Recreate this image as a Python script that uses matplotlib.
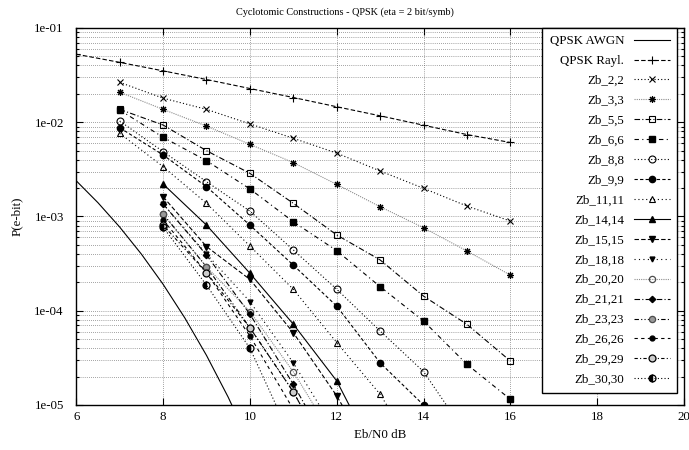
import matplotlib
matplotlib.use('Agg')
import matplotlib.pyplot as plt
import matplotlib.ticker as ticker
import numpy as np

plt.rcParams['font.family'] = ['Liberation Serif', 'DejaVu Serif']
plt.rcParams['font.size'] = 9.3

# theoretical reference curves
awgnX = [6.0, 6.5, 7.0, 7.5, 8.0, 8.5, 9.0, 9.5, 10.0]
awgnY = [2.39e-3, 1.40e-3, 7.73e-4, 3.99e-4, 1.91e-4, 8.40e-5, 3.36e-5, 1.21e-5, 3.87e-6]
raylX = [6, 7, 8, 9, 10, 11, 12, 13, 14, 15, 16]
raylY = [0.0527, 0.0432, 0.0351, 0.0284, 0.0228, 0.0183, 0.0146, 0.0117, 0.0093, 0.0074, 0.0061]

# cyclotomic constructions
x7to16 = [7, 8, 9, 10, 11, 12, 13, 14, 15, 16]
zb2 = [0.0265, 0.0180, 0.0137, 0.0096, 0.00676, 0.0047, 0.00304, 0.00199, 0.00129, 0.000895]
zb3 = [0.0208, 0.0137, 0.0091, 0.00583, 0.00373, 0.00219, 0.00127, 0.00076, 0.00043, 0.000239]
zb5 = [0.0137, 0.00935, 0.00499, 0.00287, 0.00138, 0.000637, 0.000346, 0.000143, 7.18e-5, 2.93e-5]
zb6 = [0.0135, 0.00692, 0.00391, 0.00196, 0.00088, 0.000434, 0.00018, 7.78e-5, 2.7e-5, 1.15e-5]
x8s = [7, 8, 9, 10, 11, 12, 13, 14, 15]
zb8 = [0.0103, 0.00488, 0.00234, 0.00114, 0.000442, 0.000169, 6.1e-5, 2.26e-5, 4.8e-6]
x9s = [7, 8, 9, 10, 11, 12, 13, 14]
zb9 = [0.00875, 0.0045, 0.00207, 0.00081, 0.000305, 0.000112, 2.8e-5, 1.0e-5]
zb11 = [0.00762, 0.00338, 0.00138, 0.000486, 0.000169, 4.6e-5, 1.3e-5, 2.3e-6]
x8to13 = [8, 9, 10, 11, 12, 13]
zb14 = [0.00221, 0.00081, 0.00025, 7.2e-5, 1.8e-5, 2.3e-6]
zb15 = [0.00162, 0.00048, 0.000215, 5.85e-5, 1.25e-5, 2.0e-6]
x8to12 = [8, 9, 10, 11, 12]
zb18 = [1.36e-3, 4.0e-4, 1.25e-4, 2.8e-5, 5.0e-6]
zb20 = [1.06e-3, 2.93e-4, 9.8e-5, 2.25e-5, 4.0e-6]
zb21 = [1.36e-3, 3.9e-4, 9.2e-5, 1.66e-5, 2.5e-6]
zb23 = [1.06e-3, 2.93e-4, 6.6e-5, 1.38e-5, 2.0e-6]
x8to11 = [8, 9, 10, 11]
zb26 = [9.2e-4, 2.53e-4, 5.4e-5, 9.0e-6]
zb29 = [8.1e-4, 2.53e-4, 6.6e-5, 1.38e-5, 2.0e-6]
zb30 = [7.7e-4, 1.87e-4, 4.0e-5, 4.0e-6]

fig = plt.figure(figsize=(6.89, 4.5), dpi=100)
ax = fig.add_axes([0.1107, 0.1, 0.8820, 0.8378])

lw = 0.8
ax.plot(awgnX, awgnY, color='black', lw=lw, label='QPSK AWGN')
ax.plot(raylX, raylY, color='black', lw=lw, dashes=(4, 2), marker='+', ms=6, mew=0.8, label='QPSK Rayl.')

series = [
    (x7to16, zb2, 'Zb_2,2', dict(color='black', dashes=(1, 2), marker='x', ms=4.5, mew=0.8)),
    (x7to16, zb3, 'Zb_3,3', dict(color='0.55', dashes=(1, 1), marker=(8, 2, 0), ms=5, mew=0.8, mec='black')),
    (x7to16, zb5, 'Zb_5,5', dict(color='black', dashes=(5, 2, 1, 2), marker='s', ms=5, mfc='none', mew=0.8)),
    (x7to16, zb6, 'Zb_6,6', dict(color='black', dashes=(4, 3, 1, 3), marker='s', ms=5, mfc='black')),
    (x8s, zb8, 'Zb_8,8', dict(color='black', dashes=(1, 2), marker='o', ms=5, mfc='none', mew=0.8)),
    (x9s, zb9, 'Zb_9,9', dict(color='black', dashes=(3, 2), marker='o', ms=4.5, mfc='black')),
    (x9s, zb11, 'Zb_11,11', dict(color='black', dashes=(1, 2.5), marker='^', ms=5, mfc='none', mew=0.8)),
    (x8to13, zb14, 'Zb_14,14', dict(color='black', marker='^', ms=4, mfc='black')),
    (x8to13, zb15, 'Zb_15,15', dict(color='black', dashes=(4, 2), marker='v', ms=5, mfc='black')),
    (x8to12, zb18, 'Zb_18,18', dict(color='black', dashes=(1, 3), marker='v', ms=3.5, mfc='black')),
    (x8to12, zb20, 'Zb_20,20', dict(color='0.55', dashes=(1, 1), marker='o', ms=4.5, mfc='none', mec='0.3', mew=0.9)),
    (x8to12, zb21, 'Zb_21,21', dict(color='black', dashes=(5, 2, 1, 2), marker='D', ms=3.2, mfc='black')),
    (x8to12, zb23, 'Zb_23,23', dict(color='black', dashes=(4, 2, 1, 2, 1, 2), marker='o', ms=4.5, mfc='0.6', mec='0.3', mew=0.9)),
    (x8to11, zb26, 'Zb_26,26', dict(color='black', dashes=(3, 3), marker='o', ms=3.5, mfc='black')),
    (x8to12, zb29, 'Zb_29,29', dict(color='black', dashes=(3, 2, 1, 2), marker='o', ms=5, mfc='0.8', mec='black', mew=0.9)),
    (x8to11, zb30, 'Zb_30,30', dict(color='black', dashes=(1, 2), marker='o', ms=5, fillstyle='left', mfc='black', mec='black', mew=0.9)),
]
for xs, ys, name, style in series:
    ax.plot(xs, ys, lw=lw, label=name, **style)

ax.set_yscale('log')
ax.set_xlim(6, 20)
ax.set_ylim(1e-5, 1e-1)
ax.xaxis.set_major_locator(ticker.MultipleLocator(2))
ax.yaxis.set_major_locator(ticker.LogLocator(base=10, numticks=10))
ax.yaxis.set_minor_locator(ticker.LogLocator(base=10, subs=np.arange(2, 10), numticks=20))
ax.yaxis.set_major_formatter(ticker.FuncFormatter(lambda v, p: '{:.0e}'.format(v)))
ax.yaxis.set_minor_formatter(ticker.NullFormatter())
ax.tick_params(which='both', direction='in', top=True, right=True, width=0.8)
ax.tick_params(which='major', length=5)
ax.tick_params(axis='y', which='major', pad=9)
ax.tick_params(axis='x', which='major', pad=4)
ax.tick_params(which='minor', length=2.5)
for s in ax.spines.values():
    s.set_linewidth(1.0)

ax.grid(which='both', color='0.3', linestyle=(0, (1, 2)), linewidth=0.5)

# gnuplot centres the title on the whole canvas
fig.text(0.5, 0.972, 'Cyclotomic Constructions - QPSK (eta = 2 bit/symb)', ha='center', va='center', fontsize=7.4)
ax.set_xlabel('Eb/N0 dB', labelpad=5)
ax.set_ylabel('P(e-bit)', labelpad=8)

leg = ax.legend(loc='upper right', bbox_to_anchor=(0.9885, 1.0), borderaxespad=0,
                markerfirst=False, handlelength=2.8, handletextpad=0.75, labelspacing=0.61,
                fancybox=False, framealpha=1, edgecolor='black', borderpad=0.55)
leg.get_frame().set_linewidth(1.0)

fig.savefig('out.png', dpi=100)
